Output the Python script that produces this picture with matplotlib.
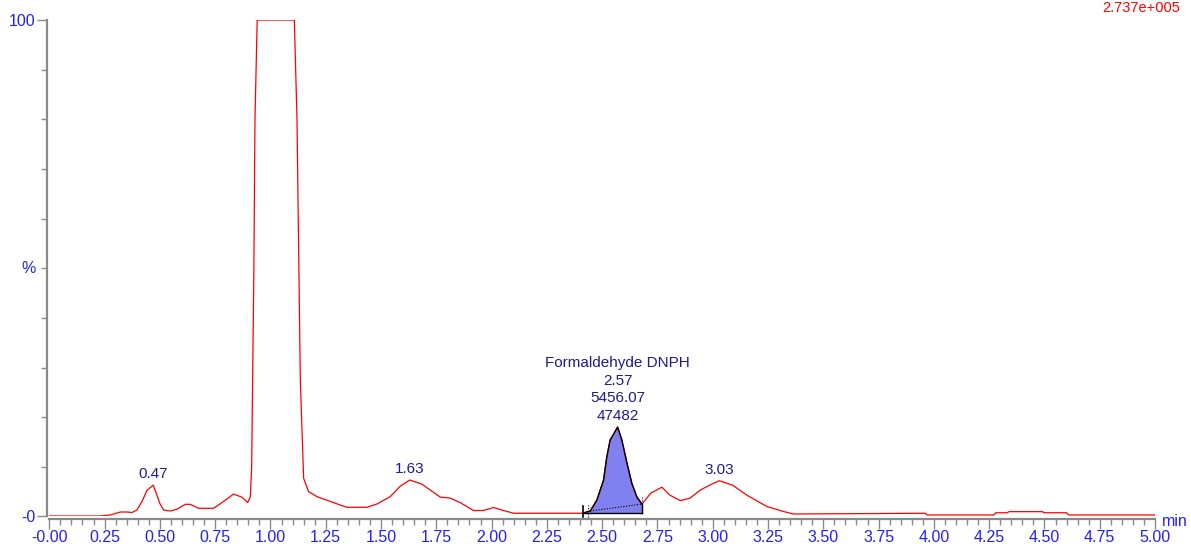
import matplotlib
matplotlib.use('Agg')
import matplotlib.pyplot as plt
import numpy as np
from matplotlib.ticker import MultipleLocator, FixedLocator, FixedFormatter

plt.rcParams['font.family'] = ['Liberation Sans', 'DejaVu Sans']

# chromatogram trace: retention time (min) vs relative intensity (%)
rt = [0.00, 0.23, 0.276, 0.321, 0.351, 0.374, 0.396, 0.419, 0.442, 0.47,
      0.485, 0.50, 0.517, 0.547, 0.577, 0.615, 0.637, 0.675, 0.743, 0.781,
      0.833, 0.871, 0.897, 0.909, 0.915, 0.925, 0.93, 0.94, 1.108, 1.12,
      1.135, 1.15, 1.172, 1.21, 1.316, 1.346, 1.436, 1.481, 1.542, 1.587,
      1.63, 1.685, 1.768, 1.813, 1.858, 1.918, 1.963, 2.009, 2.054, 2.10,
      2.41, 2.446, 2.476, 2.506, 2.521, 2.536, 2.57, 2.589, 2.612, 2.634,
      2.657, 2.68, 2.72, 2.77, 2.806, 2.853, 2.898, 2.943, 2.99, 3.03,
      3.09, 3.154, 3.245, 3.32, 3.365, 3.96, 3.97, 4.27, 4.28, 4.33,
      4.34, 4.49, 4.50, 4.60, 4.61, 5.00]
intensity = [0.1, 0.1, 0.3, 0.9, 0.9, 0.8, 1.3, 3.0, 5.3, 6.3,
             4.5, 2.6, 1.3, 1.1, 1.45, 2.45, 2.45, 1.65, 1.65, 2.8,
             4.5, 3.9, 2.8, 4.0, 10.0, 50.0, 80.0, 100.0, 100.0, 80.0,
             27.5, 7.7, 5.0, 4.0, 2.3, 1.85, 1.85, 2.5, 4.0, 6.1,
             7.35, 6.5, 3.9, 3.7, 2.8, 1.2, 1.2, 1.8, 1.2, 0.65,
             0.65, 1.1, 3.3, 7.3, 12.0, 15.4, 18.0, 15.4, 10.8, 6.7,
             3.9, 2.5, 4.7, 5.9, 4.3, 3.2, 3.7, 5.3, 6.4, 7.2,
             6.3, 4.3, 2.0, 1.0, 0.5, 0.65, 0.3, 0.3, 0.75, 0.75,
             0.97, 0.97, 0.75, 0.75, 0.3, 0.3]

# labelled peaks
peak_rt = [0.47, 1.63, 3.03]
peak_labels = ['0.47', '1.63', '3.03']

# integrated peak
int_name = 'Formaldehyde DNPH'
int_rt = 2.57
int_area = 5456.07
int_height = 47482
int_start, int_end = 2.413, 2.68
int_floor = 0.65
base_x = [2.446, 2.68]
base_y = [1.1, 2.5]

x_ticks = [0.00, 0.25, 0.50, 0.75, 1.00, 1.25, 1.50, 1.75, 2.00, 2.25, 2.50,
           2.75, 3.00, 3.25, 3.50, 3.75, 4.00, 4.25, 4.50, 4.75, 5.00]
x_ticklabels = ['-0.00'] + [f'{v:.2f}' for v in x_ticks[1:]]

full_scale = '2.737e+005'

RED = '#ff0000'
BLUE = '#2020ff'
NAVY = '#1c1c8c'
GREY = '#8a8a8a'

fig = plt.figure(figsize=(11.91, 5.44), dpi=100)
ax = fig.add_axes([0.0414, 0.0506, 0.9284, 0.9126])

rt_a = np.array(rt)
int_a = np.array(intensity)

# shaded integration area
sel = (rt_a > int_start) & (rt_a < int_end)
px = np.concatenate([[int_start], rt_a[sel], [int_end]])
py = np.concatenate([[np.interp(int_start, rt_a, int_a)], int_a[sel],
                     [np.interp(int_end, rt_a, int_a)]])
ax.fill_between(px, int_floor, py, facecolor='#8080f0', edgecolor='none', zorder=2)

ax.plot(rt_a, int_a, color=RED, lw=0.9, zorder=3)

# black outline over the integrated section
ax.plot(px, py, color='black', lw=1.0, zorder=4)
ax.plot([int_start, int_end], [int_floor, int_floor], color='black', lw=1.0, zorder=4)
ax.plot([int_end, int_end], [int_floor, py[-1]], color='black', lw=1.0, zorder=4)
ax.plot([int_start, int_start], [-0.1, 2.1], color='black', lw=1.2, zorder=4, clip_on=False)
ax.plot(base_x, base_y, color='black', lw=0.8, ls=(0, (1, 1.5)), zorder=5)
ax.plot([base_x[0] - 0.01, base_x[0] - 0.01], [-0.1, 2.3], color='black', lw=0.8,
        ls=(0, (1, 1.5)), zorder=5, clip_on=False)
ax.plot([int_end, int_end], [0.9, 3.9], color='black', lw=0.8,
        ls=(0, (1, 1.5)), zorder=5)

# peak labels
for x, lab in zip(peak_rt, peak_labels):
    ax.annotate(lab, (x, np.interp(x, rt_a, int_a)), xytext=(0, 3),
                textcoords='offset points', ha='center', va='bottom',
                color=NAVY, fontsize=11)
ax.annotate(f'{int_name}\n{int_rt:.2f}\n{int_area:.2f}\n{int_height}',
            (int_rt, np.interp(int_rt, rt_a, int_a)), xytext=(0, 3),
            textcoords='offset points', ha='center', va='bottom',
            color=NAVY, fontsize=11, linespacing=1.32)

ax.set_xlim(0, 5)
ax.set_ylim(0, 100)

for s in ['top', 'right']:
    ax.spines[s].set_visible(False)
for s in ['left', 'bottom']:
    ax.spines[s].set_color(GREY)
    ax.spines[s].set_linewidth(1.6)
    ax.spines[s].set_position(('outward', 2))

ax.xaxis.set_major_locator(FixedLocator(x_ticks))
ax.xaxis.set_major_formatter(FixedFormatter(x_ticklabels))
ax.xaxis.set_minor_locator(MultipleLocator(0.05))
ax.yaxis.set_major_locator(FixedLocator([0, 100]))
ax.yaxis.set_major_formatter(FixedFormatter(['-0', '100']))
ax.yaxis.set_minor_locator(MultipleLocator(10))
ax.tick_params(which='major', length=7, width=1, color=GREY, labelcolor=BLUE,
               labelsize=11.5, pad=1)
ax.tick_params(which='minor', length=4, width=1, color=GREY)

ax.text(-0.012, 50, '%', transform=ax.get_yaxis_transform(), ha='right',
        va='center', color=BLUE, fontsize=11.5)
fig.text(1162 / 1191, (544 - 521) / 544, 'min', ha='left', va='center',
         color=BLUE, fontsize=11.5)
fig.text(1180 / 1191, (544 - 8) / 544, full_scale, ha='right', va='center',
         color=RED, fontsize=10.5)

fig.savefig('out.png', dpi=100)
